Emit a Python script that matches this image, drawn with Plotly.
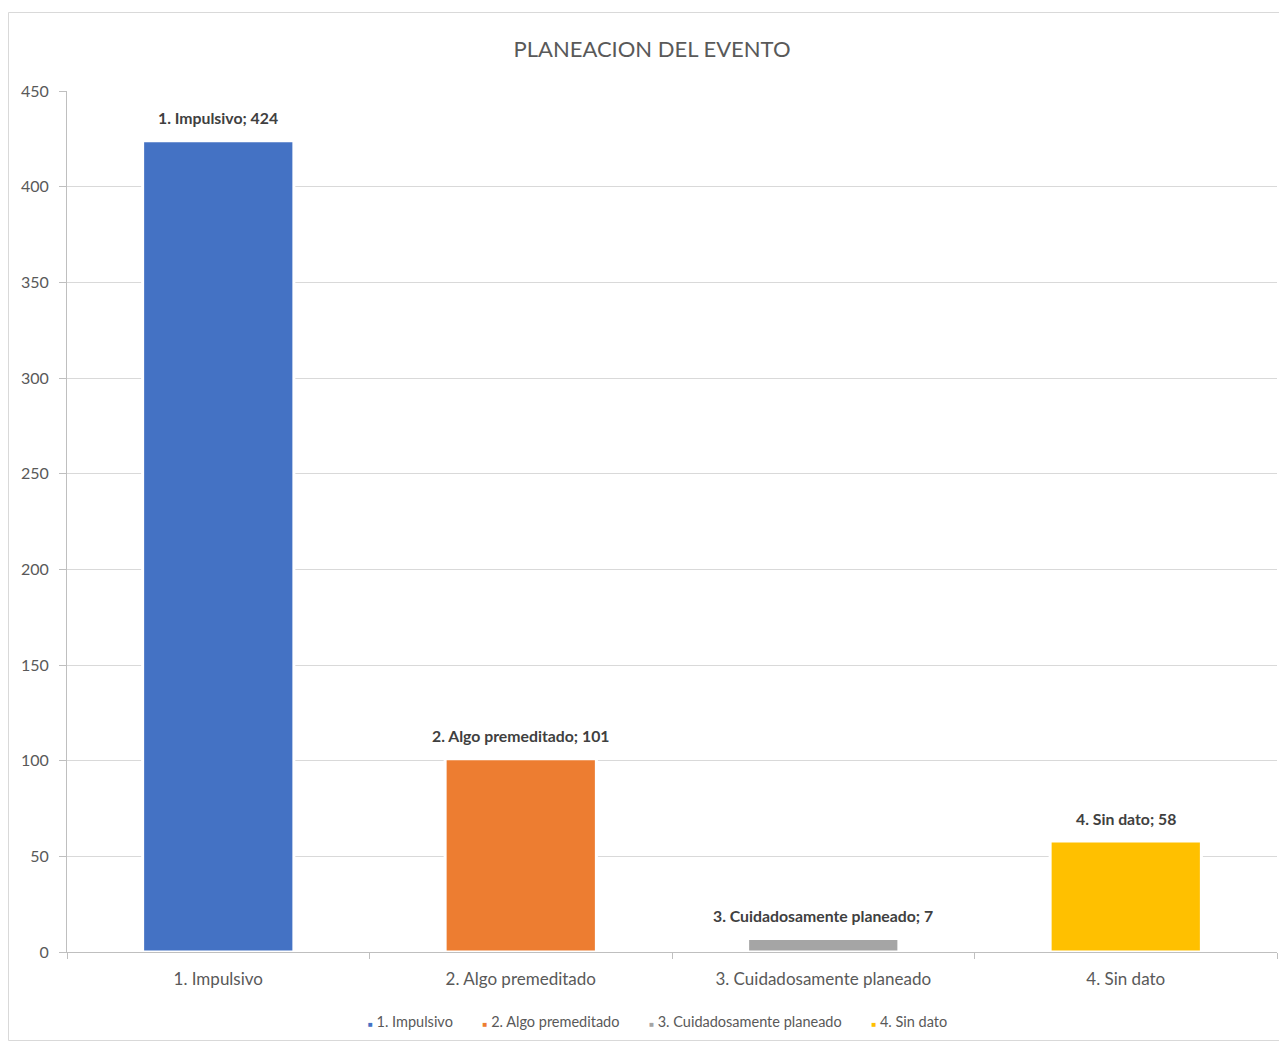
import plotly.graph_objects as go

categories = ["1. Impulsivo", "2. Algo premeditado", "3. Cuidadosamente planeado", "4. Sin dato"]
values = [424, 101, 7, 58]
colors = ["#4472C4", "#ED7D31", "#A5A5A5", "#FFC000"]
title_text = "PLANEACION DEL EVENTO"
y_ticks = [0, 50, 100, 150, 200, 250, 300, 350, 400, 450]

FONT = "Lato, Open Sans, sans-serif"
OFF = 8  # page body margin
W, H = 1287 - OFF, 1043 - OFF
ML, MR, MT, MB = 67 - OFF, 10, 91 - OFF, H - (952 - OFF)
PW, PH = W - ML - MR, H - MT - MB


def px2paper_x(px):
    return (px - OFF - ML) / PW


def px2paper_y(py):
    return (H - MB - (py - OFF)) / PH


fig = go.Figure()
for c, v, col in zip(categories, values, colors):
    fig.add_trace(go.Bar(x=[c], y=[v], marker=dict(color=col, line=dict(color="white", width=3)),
                         width=0.5, showlegend=False, name=c))

for c, v in zip(categories, values):
    fig.add_annotation(x=c, y=v, text=f"<b>{c}; {v}</b>", showarrow=False, yshift=23,
                       font=dict(family=FONT, size=15.8, color="#404040"))

# legend row (Excel style small square markers)
sep = "\u00a0" * 8
legend_text = sep.join(
    f"<span style='color:{col};font-size:8px'>■</span>\u00a0{c}" for c, col in zip(categories, colors)
)
fig.add_annotation(xref="paper", yref="paper", x=px2paper_x(657), y=px2paper_y(1021),
                   xanchor="center", yanchor="middle", showarrow=False, text=legend_text,
                   font=dict(family=FONT, size=14.5, color="#595959"))

fig.add_shape(type="rect", xref="paper", yref="paper",
              x0=px2paper_x(8.5), x1=px2paper_x(1300), y0=px2paper_y(1040.5), y1=px2paper_y(12.5),
              line=dict(color="#D9D9D9", width=1), fillcolor="rgba(0,0,0,0)", layer="below")

fig.update_layout(
    width=W, height=H,
    margin=dict(l=ML, r=MR, t=MT, b=MB),
    paper_bgcolor="white", plot_bgcolor="white",
    barmode="overlay",
    showlegend=False,
    title=dict(text=title_text, x=(652 - OFF) / W, xanchor="center", y=1 - (49 - OFF) / H, yanchor="middle",
               font=dict(family=FONT, size=22, color="#595959")),
    font=dict(family=FONT, color="#595959"),
)
fig.update_xaxes(type="category", categoryorder="array", categoryarray=categories,
                 showline=True, linecolor="#BFBFBF", linewidth=1,
                 ticks="outside", tickson="boundaries", ticklen=6, tickcolor="#BFBFBF",
                 tickfont=dict(family=FONT, size=17, color="#595959"), showgrid=False, zeroline=False,
                 range=[-0.5, 3.5], ticklabelstandoff=12)
fig.update_yaxes(range=[0, 450], tickvals=y_ticks, showline=True, linecolor="#BFBFBF", linewidth=1,
                 ticks="outside", ticklen=7, tickcolor="#BFBFBF", gridcolor="#D9D9D9", gridwidth=1,
                 tickfont=dict(family=FONT, size=16, color="#595959"), zeroline=False, ticklabelstandoff=7)

fig.write_html("out.html")
